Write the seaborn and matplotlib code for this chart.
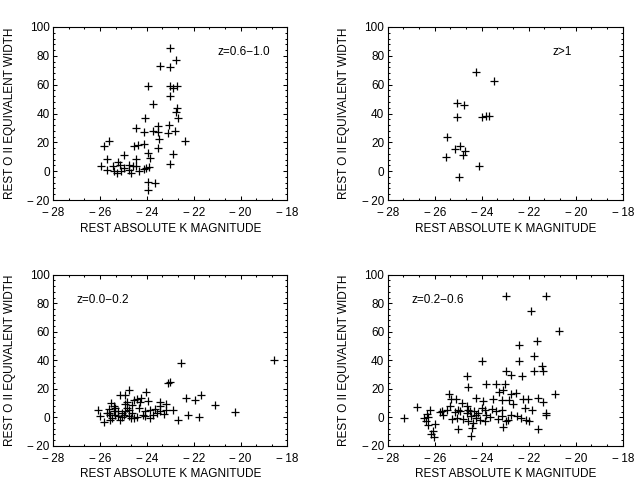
import pandas as pd
import matplotlib
matplotlib.use("Agg")
import matplotlib.pyplot as plt
import seaborn as sns
from matplotlib.ticker import MultipleLocator

# --- data (rest K magnitude, rest O II equivalent width) ---
z06_10_mag = [-23.0, -22.74, -23.43, -23.0, -23.95, -23.0, -22.89, -22.71, -23.0, -23.74,
              -22.71, -22.74, -22.67, -24.07, -24.47, -23.54, -23.07, -23.74, -23.54, -23.11,
              -22.81, -24.11, -23.50, -22.36, -25.62, -25.82, -24.54, -24.38, -24.10, -23.54,
              -23.93, -23.88, -22.89, -23.0, -25.68, -24.96, -24.45, -25.96, -25.45, -25.16,
              -25.21, -24.74, -24.60, -24.03, -23.91, -25.68, -25.39, -25.28, -25.09, -24.74,
              -24.68, -24.34, -24.14, -24.99, -23.93, -23.64, -23.97, -24.45]
z06_10_ew = [85.3, 77.2, 73.1, 72.4, 58.8, 58.8, 57.4, 59.2, 52.3, 46.3,
             43.6, 41.3, 36.7, 36.7, 30.2, 31.1, 32.0, 27.7, 27.0, 26.5,
             27.9, 27.0, 22.4, 21.0, 21.0, 17.3, 17.8, 18.2, 18.7, 15.9,
             12.7, 9.0, 12.0, 5.3, 8.5, 10.9, 8.5, 3.9, 3.9, 4.4,
             6.7, 4.4, 3.9, 2.1, 3.0, 0.5, -0.2, -1.6, 0.3, 0.5,
             -1.1, -0.2, 1.2, 2.1, -7.6, -8.3, -13.3, 3.3]

z_gt1_mag = [-24.26, -23.47, -25.05, -24.77, -25.05, -23.97, -23.83, -23.69,
             -25.50, -25.13, -24.91, -24.72, -24.82, -25.53, -24.11, -24.96]
z_gt1_ew = [69.1, 62.2, 47.3, 46.1, 37.3, 37.8, 38.5, 38.0,
            24.0, 15.2, 17.5, 14.1, 11.5, 9.5, 3.7, -3.7]

z00_02_mag = [-18.57, -22.53, -23.11, -23.00, -25.16, -24.92, -24.74, -24.03, -24.40, -24.24,
              -24.54, -23.93, -23.45, -23.20, -22.33, -21.93, -21.69, -21.10, -20.25, -22.69,
              -22.26, -21.79, -26.09, -25.99, -25.81, -25.59, -25.63, -25.52, -25.42, -25.56,
              -25.35, -25.25, -25.06, -25.06, -24.85, -24.78, -24.64, -24.68, -24.54, -24.32,
              -24.18, -24.07, -23.88, -23.75, -23.85, -23.64, -23.43, -23.28, -23.17, -22.88,
              -24.95, -25.71, -25.16, -24.78, -25.49, -25.35, -24.85, -24.07, -23.57, -24.42,
              -25.63, -25.42, -24.99, -24.64, -25.21, -24.28, -23.43, -24.92]
z00_02_ew = [39.9, 37.8, 24.0, 25.1, 15.8, 15.8, 19.3, 18.1, 13.0, 13.4,
             12.0, 11.8, 11.1, 9.7, 13.4, 12.0, 15.8, 8.3, 3.6, -2.0,
             1.3, 0.3, 5.2, 0.6, -3.6, -1.8, 5.9, 9.9, 7.6, 1.7,
             1.3, 4.1, 2.9, -0.1, 6.4, 0.6, 8.8, -0.6, -0.6, 6.4,
             1.7, 4.1, 4.8, 1.7, -0.6, 5.9, 4.1, 2.4, 4.8, 5.2,
             9.2, 2.9, -1.8, 5.2, -0.6, 6.4, 11.1, 0.6, 2.9, 0.1,
             2.9, 4.1, 1.7, 2.9, 0.6, 11.1, 7.6, 4.5]

z02_06_mag = [-22.99, -21.28, -21.92, -20.71, -22.42, -21.67, -21.79, -24.00, -22.41, -21.45,
              -21.39, -21.79, -22.95, -22.77, -22.27, -24.61, -24.57, -23.84, -23.38, -23.01,
              -23.26, -23.09, -22.75, -22.53, -20.87, -25.40, -25.29, -25.11, -24.85, -24.65,
              -24.23, -23.94, -23.52, -23.16, -22.86, -22.24, -22.03, -21.60, -21.39, -26.74,
              -27.31, -26.45, -26.35, -26.21, -26.38, -26.27, -25.99, -26.07, -26.17, -26.04,
              -25.76, -25.67, -25.50, -25.25, -25.05, -25.01, -25.36, -24.91, -24.65, -24.51,
              -24.44, -24.34, -24.26, -24.16, -24.00, -23.80, -24.43, -24.44, -23.87, -23.55,
              -23.38, -23.12, -23.12, -22.98, -23.09, -22.88, -22.74, -22.67, -22.50, -22.34,
              -22.17, -22.13, -21.99, -21.86, -21.59, -21.28, -21.25, -25.15, -24.79, -24.58,
              -24.23, -24.09, -23.66, -23.31, -23.87, -25.70, -26.28, -24.58, -25.01, -24.37]
z02_06_ew = [85.2, 85.2, 74.3, 60.7, 50.9, 53.7, 43.1, 39.6, 39.2, 36.1,
             32.6, 32.6, 32.6, 29.8, 29.3, 29.1, 21.4, 23.7, 23.7, 23.3,
             18.1, 19.0, 16.7, 17.4, 16.2, 16.2, 13.0, 13.0, 10.2, 7.6,
             13.4, 11.6, 13.0, 12.5, 12.5, 13.0, 13.0, 13.4, 11.1, 6.9,
             -0.6, -0.6, 2.4, 4.8, -2.9, -5.3, -4.8, -9.5, -11.8, -13.5,
             3.6, 1.7, 4.8, -1.1, -0.6, -8.1, 8.1, 4.1, 2.9, 4.1,
             0.6, 4.1, -0.6, 2.9, 6.4, 1.3, -7.2, -12.8, 5.2, 5.9,
             4.1, 5.0, 0.6, -2.9, -6.5, -1.8, 1.7, 9.2, 0.6, -0.6,
             6.4, -2.2, -2.9, 5.2, -8.1, 2.9, 1.7, 3.6, -1.1, -2.5,
             1.7, -1.8, -0.1, -1.1, -2.9, 4.1, 0.0, 5.2, 5.2, -4.1]

x_ticks = [-28, -26, -24, -22, -20, -18]
y_ticks = [-20, 0, 20, 40, 60, 80, 100]

panel_labels = ["z=0.6\u22121.0", "z>1", "z=0.0\u22120.2", "z=0.2\u22120.6"]
label_x = [-21.0, -21.0, -27.0, -27.0]
label_y = [82.5, 82.5, 82.5, 82.5]

panels = [
    (z06_10_mag, z06_10_ew),
    (z_gt1_mag, z_gt1_ew),
    (z00_02_mag, z00_02_ew),
    (z02_06_mag, z02_06_ew),
]

# axes rectangles (figure fractions) to match the IDL page layout
positions = [
    [0.083, 0.585, 0.366, 0.359],
    [0.606, 0.585, 0.367, 0.359],
    [0.083, 0.075, 0.366, 0.355],
    [0.606, 0.075, 0.367, 0.355],
]


def tick_text(v):
    # IDL-style labels: wide minus followed by a small gap
    if v < 0:
        return "\u2212\u2009" + str(abs(v))
    return str(v)


sns.set_theme(style="ticks")
plt.rcParams['font.family'] = ['Liberation Sans', 'DejaVu Sans']

fig = plt.figure(figsize=(6.4, 4.82), dpi=100)
fig.patch.set_facecolor("white")

for i, (mag, ew) in enumerate(panels):
    ax = fig.add_axes(positions[i])
    df = pd.DataFrame({"mag": mag, "ew": ew})
    sns.scatterplot(data=df, x="mag", y="ew", marker="+", color="black",
                    s=28, linewidth=0.9, ax=ax, legend=False)

    ax.set_xlim(-28, -18)
    ax.set_ylim(-20, 100)
    ax.set_xticks(x_ticks)
    ax.set_xticklabels([tick_text(v) for v in x_ticks])
    ax.set_yticks(y_ticks)
    ax.set_yticklabels([tick_text(v) for v in y_ticks])
    ax.xaxis.set_minor_locator(MultipleLocator(2 / 3))
    ax.yaxis.set_minor_locator(MultipleLocator(4))
    ax.tick_params(which="both", direction="in", top=True, right=True,
                   color="black", width=0.75)
    ax.tick_params(which="major", length=3.0, labelsize=8.5, labelcolor="black")
    ax.tick_params(which="minor", length=1.5)
    ax.tick_params(axis="x", which="major", pad=5)
    ax.tick_params(axis="y", which="major", pad=2.5)
    for sp in ax.spines.values():
        sp.set_color("black")
        sp.set_linewidth(0.8)

    ax.set_xlabel("REST ABSOLUTE K MAGNITUDE", fontsize=8.5, color="black")
    ax.set_ylabel("REST O II EQUIVALENT WIDTH", fontsize=8.5, color="black")
    ax.xaxis.label.set_va("center")
    ax.yaxis.label.set_va("center")
    ax.xaxis.set_label_coords(0.5, -0.165)
    ax.yaxis.set_label_coords(-0.186, 0.5)

    ax.text(label_x[i], label_y[i], panel_labels[i], fontsize=8.5,
            ha="left", va="center", color="black")

fig.savefig("out.png", dpi=100, facecolor="white")
plt.close(fig)
